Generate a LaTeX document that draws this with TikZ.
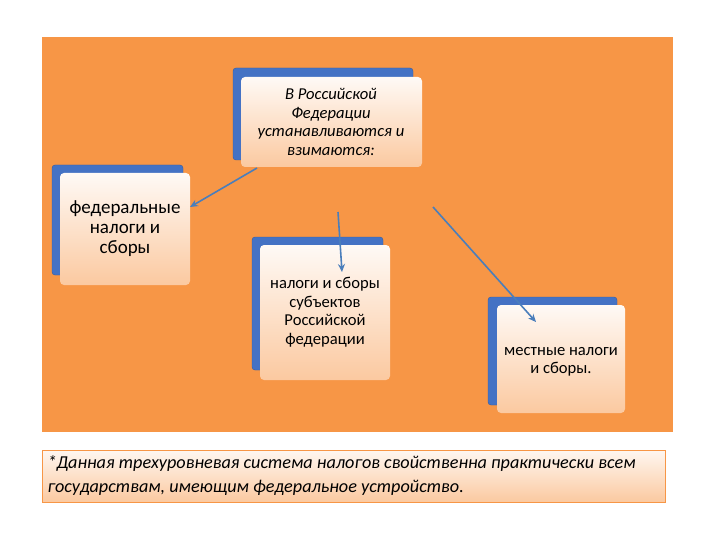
\documentclass[tikz,border=0pt]{standalone}
\usepackage{fontspec}
\setmainfont{Carlito}
\usetikzlibrary{arrows.meta}
\definecolor{bgor}{HTML}{F79646}
\definecolor{shblue}{HTML}{4472C4}
\definecolor{peach}{HTML}{FBC9A0}
\definecolor{arr}{HTML}{4A7EBB}
\tikzset{
  shad/.style={fill=shblue, draw=shblue!80!black, rounded corners=3pt},
  front/.style={top color=white!90!peach, bottom color=peach, draw=none, rounded corners=4pt},
  lbl/.style={align=center, font=\fontsize{16.6}{18.5}\selectfont},
  arrw/.style={draw=arr, line width=1.6pt, -{Stealth[length=8pt,width=7pt]}}
}
\begin{document}
\begin{tikzpicture}[x=1pt,y=-1pt]
\useasboundingbox (0,0) rectangle (720,540);
\fill[white] (0,0) rectangle (720,540);
\fill[bgor] (42,37) rectangle (673,432);
% top
\draw[shad] (233,68) rectangle (413,160);
\path[front] (241,77) rectangle (422,167);
\node[lbl, font=\itshape\fontsize{16.6}{18.5}\selectfont] (top) at (331,122) {В Российской\\Федерации\\устанавливаются и\\взимаются:};
% left
\draw[shad] (52,165) rectangle (183,275);
\path[front] (60,173) rectangle (190,285);
\node[lbl, font=\fontsize{19}{20}\selectfont] (fed) at (125,229) {федеральные\\налоги и\\сборы};
% middle
\draw[shad] (252,237) rectangle (383,370);
\path[front] (260,245) rectangle (390,380);
\node[lbl] (sub) at (325,312) {налоги и сборы\\субъектов\\Российской\\федерации};
% right
\draw[shad] (488,297) rectangle (617,405);
\path[front] (497,305) rectangle (625,413);
\node[lbl] (loc) at (561,362) {местные налоги\\и сборы.};
% arrows
\coordinate (a1) at (257,168); \coordinate (b1) at (190,207);
\coordinate (a2) at (338,212); \coordinate (b2) at (342,272);
\coordinate (a3) at (433,207); \coordinate (b3) at (536,322);
\draw[arrw] (a1) -- (b1);
\draw[arrw] (a2) -- (b2);
\draw[arrw] (a3) -- (b3);
% note
\path[top color=white!85!peach, bottom color=peach, draw=bgor, line width=0.8pt] (42,450) rectangle (665,502);
\node[anchor=north west, align=left, font=\itshape\fontsize{18.2}{24}\selectfont] (note) at (44,452) {*Данная трехуровневая система налогов свойственна практически всем\\государствам, имеющим федеральное устройство.};
\end{tikzpicture}
\end{document}
